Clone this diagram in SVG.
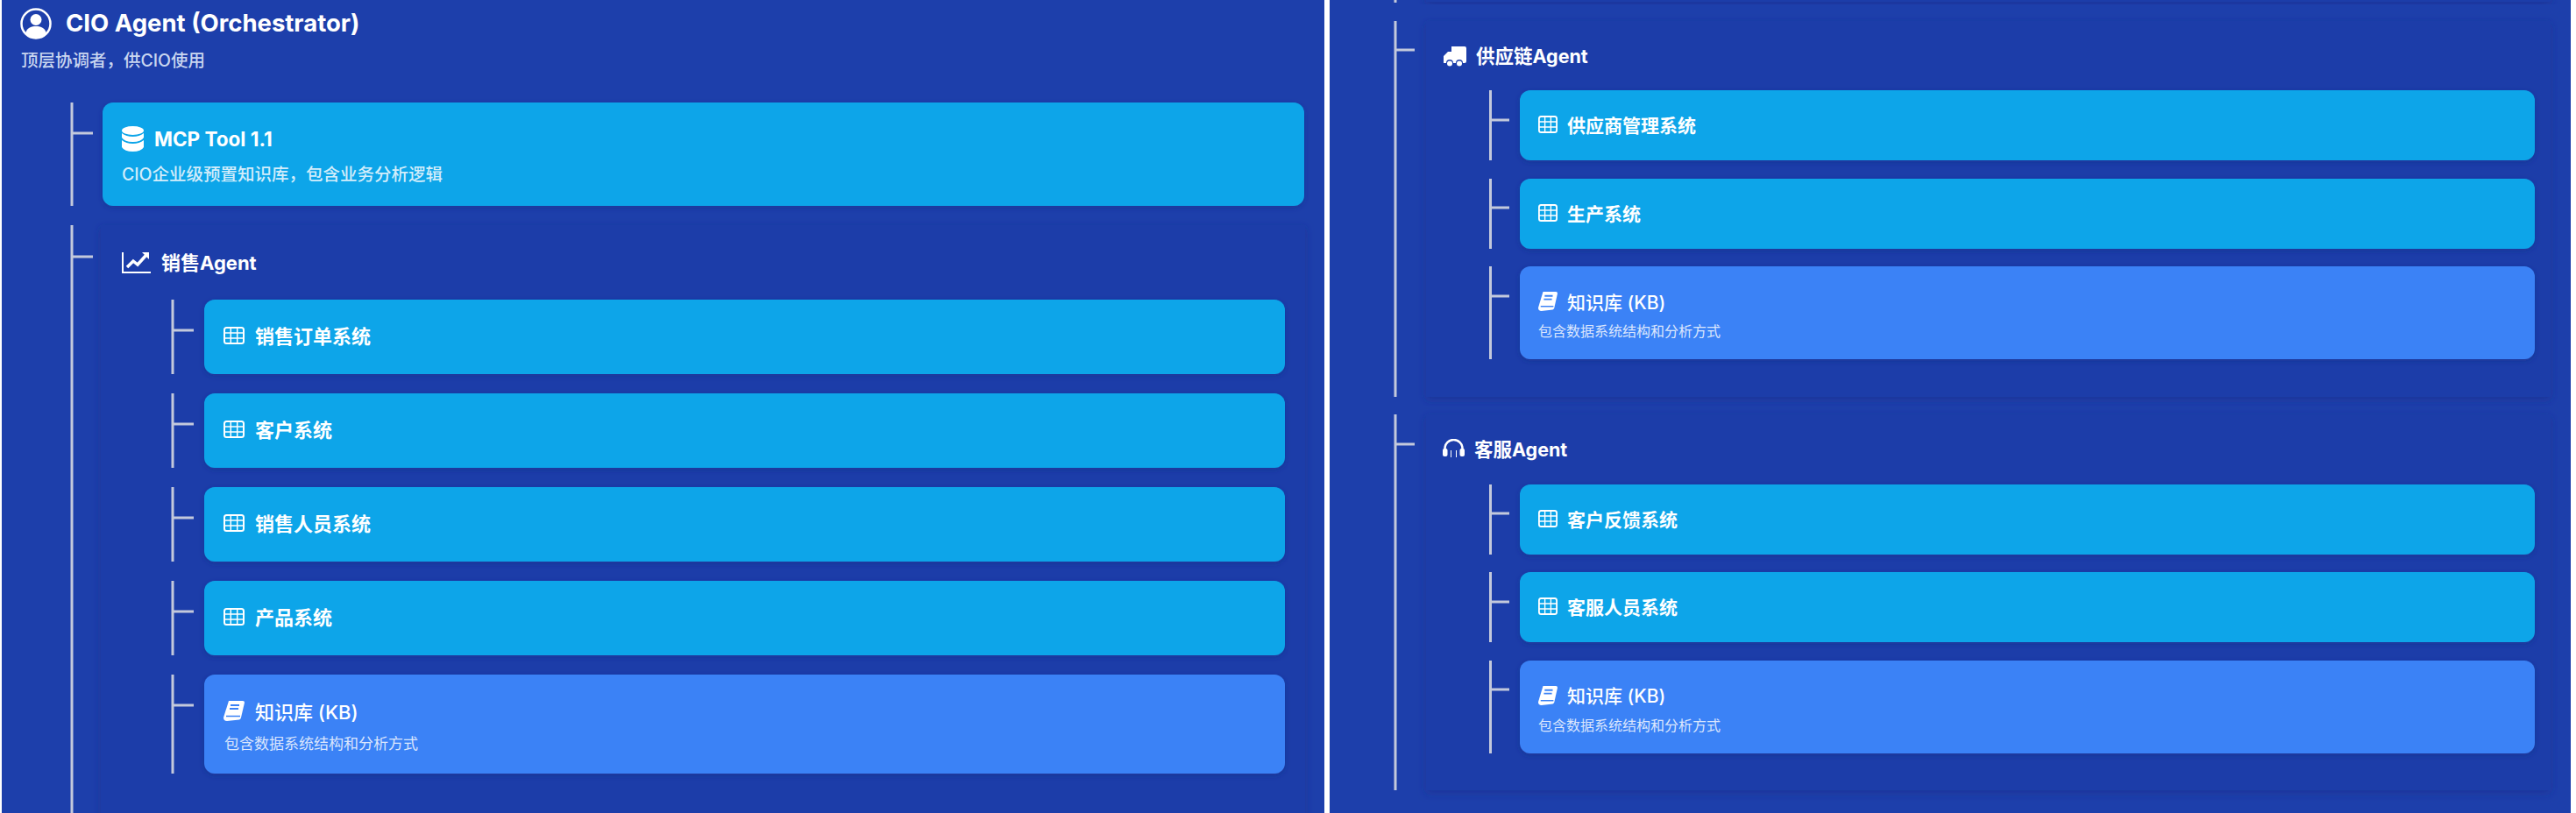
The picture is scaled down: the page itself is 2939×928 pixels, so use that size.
<svg xmlns="http://www.w3.org/2000/svg" width="2939" height="928" viewBox="0 0 2939 928">
<style>
text{font-family:"Inter","Noto Sans CJK SC","Noto Sans",sans-serif;fill:#fff}
.t{font-size:27.500px;font-weight:700}
.s{font-size:19.500px;fill:#c9d6f0;font-weight:500}
.s3{font-size:19.500px;fill:#d2edfb;font-weight:500}
.a{font-size:22px;font-weight:700}
.a2{font-size:21.500px;font-weight:700}
.m{font-size:22.500px;font-weight:700}
.c{font-size:22px;font-weight:700}
.k{font-size:22px;font-weight:500}
.ks{font-size:17px;fill:#dbe6fd}
.c2{font-size:21px;font-weight:700}
.k2{font-size:21px;font-weight:500}
.ks2{font-size:16px;fill:#dbe6fd}
.sky{fill:#0ea5e9;filter:url(#sh)}
.blue{fill:#3b82f6;filter:url(#sh)}
.panel{fill:#1c3ea9;filter:url(#psh)}
#connectors path{stroke:#c3c9dc;stroke-width:3;fill:none}
</style>
<defs>
<filter id="sh" x="-2%" y="-15%" width="104%" height="130%"><feDropShadow dx="0" dy="2" stdDeviation="3" flood-color="#1e2a80" flood-opacity=".45"/></filter>
<filter id="psh" x="-2%" y="-5%" width="104%" height="110%"><feDropShadow dx="0" dy="3" stdDeviation="5" flood-color="#1b2f8c" flood-opacity=".6"/></filter>
<symbol id="i-table" viewBox="0 0 24 20" preserveAspectRatio="none"><rect x="1" y="1" width="22" height="18" rx="2.500" fill="none" stroke="#fff" stroke-width="2"/><path d="M1 7h22M1 13h22M8.300 1v18M15.700 1v18" stroke="#fff" stroke-width="1.500" fill="none"/></symbol>
<symbol id="i-book" viewBox="0 0 24 23" preserveAspectRatio="none"><path d="M6 0h16q2 0 2 2l-4 17q-.5 2-2 2.500L4 23q-4 0-4-4z" fill="#fff"/><path d="M3 17.500h16" stroke="#3b82f6" stroke-width="1.500"/><path d="M8 5h10M7 9h10" stroke="#3b82f6" stroke-width="2"/></symbol>
<symbol id="i-user" viewBox="0 0 36 36"><circle cx="18" cy="18" r="16.500" fill="none" stroke="#fff" stroke-width="2.500"/><circle cx="18" cy="13.500" r="6.500" fill="#fff"/><path d="M6 29c2-7 7-8 12-8s10 1 12 8q-5 6-12 6t-12-6z" fill="#fff"/></symbol>
<symbol id="i-db" viewBox="0 0 25 29" preserveAspectRatio="none"><ellipse cx="12.500" cy="5" rx="12.500" ry="5" fill="#fff"/><path d="M0 8q5 4 12.500 4T25 8v5q-3 5-12.500 5T0 13zM0 16q5 4 12.500 4T25 16v8q-3 5-12.500 5T0 24z" fill="#fff"/></symbol>
<symbol id="i-chart" viewBox="0 0 33 24" preserveAspectRatio="none"><path d="M1 0v23h32" fill="none" stroke="#fff" stroke-width="2"/><path d="M6 17l7-7 5 4 10-11" fill="none" stroke="#fff" stroke-width="3.500"/><path d="M23 0h8v8z" fill="#fff"/></symbol>
<symbol id="i-truck" viewBox="0 0 26 23" preserveAspectRatio="none"><path d="M9 0h15q2 0 2 2v15q0 2-2 2h-2a4 4 0 0 0-8 0h-3a4 4 0 0 0-8 0H0v-8l5-5h4z" fill="#fff"/><circle cx="7" cy="19.500" r="3" fill="#fff"/><circle cx="18" cy="19.500" r="3" fill="#fff"/></symbol>
<symbol id="i-head" viewBox="0 0 25 21" preserveAspectRatio="none"><path d="M2.500 13V11a10 10 0 0 1 20 0v2" fill="none" stroke="#fff" stroke-width="2.500"/><rect x="0" y="11" width="5.500" height="9" rx="2" fill="#fff"/><rect x="19.500" y="11" width="5.500" height="9" rx="2" fill="#fff"/><path d="M9 21V13h1v8zM15 21V13h1v8z" fill="#fff"/></symbol>
</defs>
<rect width="2939" height="928" fill="#1d3fab"/>
<rect x="0" y="0" width="2" height="928" fill="#fff"/>
<rect x="1511" y="0" width="6" height="928" fill="#fff"/>
<rect x="2933" y="0" width="6" height="928" fill="#fff"/>

<rect class="panel" x="115" y="257" width="1374" height="690"/>
<rect class="panel" x="1627" y="-40" width="1283" height="42"/>
<rect class="panel" x="1627" y="24" width="1283" height="429"/>
<rect class="panel" x="1627" y="473" width="1283" height="429"/>

<g id="connectors">
<path d="M82 117V235M82 152H106"/>
<path d="M82 257V928M82 293H106"/>
<path d="M197 342V427M197 377H221"/>
<path d="M197 449V534M197 484H221"/>
<path d="M197 556V641M197 591H221"/>
<path d="M197 663V748M197 698H221"/>
<path d="M197 770V883M197 805H221"/>
<path d="M1592 0V3"/>
<path d="M1592 24V453M1592 57H1614"/>
<path d="M1592 473V902M1592 507H1614"/>
<path d="M1700.500 103V183M1700.500 137H1722"/>
<path d="M1700.500 204V284M1700.500 237H1722"/>
<path d="M1700.500 304V410M1700.500 338H1722"/>
<path d="M1700.500 553V633M1700.500 586H1722"/>
<path d="M1700.500 653V733M1700.500 687H1722"/>
<path d="M1700.500 754V860M1700.500 787H1722"/>
</g>

<g id="cio"><use href="#i-user" x="23" y="9" width="36" height="36"/><text class="t" x="75" y="36">CIO Agent (Orchestrator)</text><text class="s" x="24" y="76">顶层协调者，供CIO使用</text></g>
<g id="mcp"><rect class="sky" x="117" y="117" width="1371" height="118" rx="12"/><use href="#i-db" x="139" y="144" width="25" height="29"/><text class="m" x="176" y="167">MCP Tool 1.1</text><text class="s3" x="139" y="206">CIO企业级预置知识库，包含业务分析逻辑</text></g>
<g id="sales-agent"><use href="#i-chart" x="139" y="288" width="33" height="24"/><text class="a" x="184" y="308">销售Agent</text></g>
<g id="sales-orders"><rect class="sky" x="233" y="342" width="1233" height="85" rx="12"/><use href="#i-table" x="255" y="373" width="24" height="20"/><text class="c" x="291" y="392">销售订单系统</text></g>
<g id="sales-customers"><rect class="sky" x="233" y="449" width="1233" height="85" rx="12"/><use href="#i-table" x="255" y="480" width="24" height="20"/><text class="c" x="291" y="499">客户系统</text></g>
<g id="sales-staff"><rect class="sky" x="233" y="556" width="1233" height="85" rx="12"/><use href="#i-table" x="255" y="587" width="24" height="20"/><text class="c" x="291" y="606">销售人员系统</text></g>
<g id="sales-products"><rect class="sky" x="233" y="663" width="1233" height="85" rx="12"/><use href="#i-table" x="255" y="694" width="24" height="20"/><text class="c" x="291" y="713">产品系统</text></g>
<g id="sales-kb"><rect class="blue" x="233" y="770" width="1233" height="113" rx="12"/><use href="#i-book" x="255" y="800" width="24" height="23"/><text class="k" x="291" y="821">知识库 (KB)</text><text class="ks" x="256" y="855">包含数据系统结构和分析方式</text></g>

<g id="supply-agent"><use href="#i-truck" x="1647" y="53" width="26" height="23"/><text class="a2" x="1684" y="72">供应链Agent</text></g>
<g id="supply-vendors"><rect class="sky" x="1734" y="103" width="1158" height="80" rx="12"/><use href="#i-table" x="1755" y="132" width="22" height="20"/><text class="c2" x="1788" y="151">供应商管理系统</text></g>
<g id="supply-production"><rect class="sky" x="1734" y="204" width="1158" height="80" rx="12"/><use href="#i-table" x="1755" y="233" width="22" height="20"/><text class="c2" x="1788" y="252">生产系统</text></g>
<g id="supply-kb"><rect class="blue" x="1734" y="304" width="1158" height="106" rx="12"/><use href="#i-book" x="1755" y="333" width="22" height="22"/><text class="k2" x="1788" y="353">知识库 (KB)</text><text class="ks2" x="1755" y="384">包含数据系统结构和分析方式</text></g>

<g id="service-agent"><use href="#i-head" x="1646" y="501" width="25" height="21"/><text class="a2" x="1682" y="521">客服Agent</text></g>
<g id="service-feedback"><rect class="sky" x="1734" y="553" width="1158" height="80" rx="12"/><use href="#i-table" x="1755" y="582" width="22" height="20"/><text class="c2" x="1788" y="601">客户反馈系统</text></g>
<g id="service-staff"><rect class="sky" x="1734" y="653" width="1158" height="80" rx="12"/><use href="#i-table" x="1755" y="682" width="22" height="20"/><text class="c2" x="1788" y="701">客服人员系统</text></g>
<g id="service-kb"><rect class="blue" x="1734" y="754" width="1158" height="106" rx="12"/><use href="#i-book" x="1755" y="783" width="22" height="22"/><text class="k2" x="1788" y="802">知识库 (KB)</text><text class="ks2" x="1755" y="834">包含数据系统结构和分析方式</text></g>
</svg>
